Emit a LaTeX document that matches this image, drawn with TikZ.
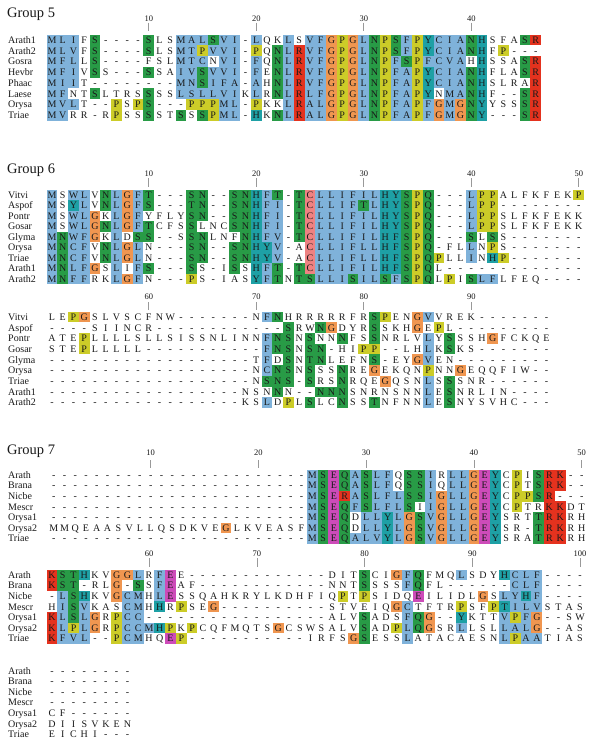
\documentclass[tikz,border=0pt]{standalone}
\usepackage{fontspec}
\setmainfont{Liberation Serif}
\definecolor{cb}{RGB}{127,178,218}
\definecolor{cg}{RGB}{40,155,70}
\definecolor{cy}{RGB}{204,204,40}
\definecolor{co}{RGB}{240,150,80}
\definecolor{cr}{RGB}{228,50,30}
\definecolor{ct}{RGB}{30,160,165}
\definecolor{cm}{RGB}{205,75,185}
\definecolor{cp}{RGB}{238,130,130}
\tikzset{
  res/.style={font=\fontsize{10}{10}\selectfont, inner sep=0pt, text height=6.6pt, text depth=0pt, text=black!90},
  lab/.style={res, anchor=west},
  ttl/.style={font=\fontsize{14.5}{14.5}\selectfont, anchor=west, inner sep=0pt, text height=9.6pt, text depth=0pt, text=black!90},
  num/.style={font=\fontsize{8.5}{8.5}\selectfont, inner sep=0pt, text height=5.8pt, text depth=0pt, text=black!90},
  tk/.style={draw=black!40, line width=0.6pt}
}
\newcount\colidx
\newcount\nodeid
\def\sqxo{0}\def\sqy{0}\def\sqdx{10.75}\def\sqdy{10.7}
\def\drawcell#1#2{%
  \pgfmathsetmacro\sqx{\sqxo+\the\colidx*\sqdx}%
  \if#2w\else\fill[fill=c#2] (\sqx-\sqdx/2,\sqy-\sqdy/2) rectangle ++(\sqdx,\sqdy);\fi
  \global\advance\nodeid by 1
  \node[res] (n\the\nodeid) at (\sqx,\sqy) {#1};%
  \advance\colidx by 1\relax
}
\def\seqA#1#2\relax#3#4\relax{%
  \drawcell{#1}{#3}%
  \ifx\relax#2\relax\else\seqA#2\relax#4\relax\fi
}
\newcommand\seqrow[6]{%
  \def\sqxo{#1}\def\sqdx{#2}\def\sqy{#3}\colidx=0
  \global\advance\nodeid by 1
  \node[lab] (n\the\nodeid) at (8,#3) {#4};%
  \seqA#5\relax#6\relax}
\newcommand\mytick[6]{%
  \node[num] (#1) at (#2,#3) {#6};
  \coordinate (#1a) at (#2,#4);
  \coordinate (#1b) at (#2,#5);
  \draw[tk] (#1a) -- (#1b);}
\begin{document}
\begin{tikzpicture}[x=1pt,y=-1pt]
\fill[white] (0,0) rectangle (600,746);
\useasboundingbox (0,0) rectangle (600,746);
% ---------------- Group 5
\node[ttl] (g5) at (7,12.3) {Group 5};
\mytick{t5a}{148.75}{18.4}{22.7}{30.7}{10}
\mytick{t5b}{256.25}{18.4}{22.7}{30.7}{20}
\mytick{t5c}{363.75}{18.4}{22.7}{30.7}{30}
\mytick{t5d}{471.25}{18.4}{22.7}{30.7}{40}
\seqrow{52}{10.75}{40}{Arath1}{MLIFS----SLSMALSVI-LQKLSVFGPGLNPSFPYCIANHSFASR}{bbbwg wwww gwwbbbgbb w bwwb w bboyobgygbytbbbgtwwwgr}
\seqrow{52}{10.75}{50.75}{Arath2}{MLVFS----SLSMTPVVI-PQNLRVFGPGLNPSFPYCIANHFP---}{bbbwg wwww gwwbbybbb w ywgb r bboyobgygbytbbbgt wy www}
\seqrow{52}{10.75}{61.5}{Gosra}{MFLLS----FSLMTCNVI-FQNLRVFGPGLNPFSPFCVAHHSSASR}{bbbwg wwww wwwbbbwbb w bwgb r bboyobgybgybbbbwtwwwgr}
\seqrow{52}{10.75}{72.25}{Hevbr}{MFIVSS---SSAIVSVVI-FENLRVFGPGLNPFAPYCIANHFLASR}{bbbwgw www gwwbbgbbb w bwgb r bboyobgybbytbbbgtwwwgr}
\seqrow{52}{10.75}{83}{Phaac}{MIIT--------MNSIFA-AHNLRVFGPGLNPFAPYCIANHSLRAR}{bbbw wwwwwwww bbgbbb w bwgb r bboyobgybbytbbbgtwwwwr}
\seqrow{52}{10.75}{93.75}{Laese}{MFNTSLTRSSSSLSLLVIKLRNLRLFGPGLNPFAPYNMANHF--SR}{bbwwgwwwwg wwbbbbbb w bwgb r bboyobgybbytwbbgtwwwgr}
\seqrow{52}{10.75}{104.5}{Orysa}{MVLT--PSPS---PPPML-PKKLRALGPGLNPFAPFGMGNYYSSSR}{bbbwwwywyg www yyybb w ywwb r bboyobgybbybobogtwwwgr}
\seqrow{52}{10.75}{115.25}{Triae}{MVRR-RPSSSSTSSSPML-HKNLRALGPGLNPFAPFGMGNY---SR}{bbwwwwywwgwwgwgybb w twgb r bboyobgybbybobogtwwwgr}
% ---------------- Group 6
\node[ttl] (g6) at (7,168.3) {Group 6};
\mytick{t6a}{148.75}{173.4}{178.3}{186.7}{10}
\mytick{t6b}{256.25}{173.4}{178.3}{186.7}{20}
\mytick{t6c}{363.75}{173.4}{178.3}{186.7}{30}
\mytick{t6d}{471.25}{173.4}{178.3}{186.7}{40}
\mytick{t6e}{578.75}{173.4}{178.3}{186.7}{50}
\seqrow{52}{10.75}{195}{Vitvi}{MSWLVNLGFT---SN--SNHFT-TCLLIFILHYSPQ---LPPALFKFEKP}{bwbbwgbobg www gg ww ggtbg w g pbbbbbbttgyg www byywwwwwwwy}
\seqrow{52}{10.75}{205.5}{Aspof}{MSYLVNLGFS---TN--SNHFI-TCLLIFTLHYSPQ---LPP--------}{bwtbwgbobg www gg ww ggtbb w g pbbbbgbttgyg www byy wwwwwwww}
\seqrow{52}{10.75}{216}{Pontr}{MSWLGKLGFYFLYSN--SNHFI-TCLLIFILHYSPQ---LPPSLFKFEKK}{bwbbowbobw www gg ww ggtbb w g pbbbbbbttgyg www byy wwwwwwww}
\seqrow{52}{10.75}{226.5}{Gosar}{MSWLGNLGFTCFSSLNCSNHFI-TCLLIFILHYSPQ---LPPSLFKFEKK}{bwbbogbobg www gw ww ggtbb w g pbbbbbbttgyg www byy wwwwwwww}
\seqrow{52}{10.75}{237}{Glyma}{MNWFGKLDSS--SSNLNFNHFV-TCLLIFILHFSPQ---SLSS-------}{bgbbowbwgg ww wggwwwgtbb w g pbbbbbbttgyg www gwgw wwwwwww}
\seqrow{52}{10.75}{247.5}{Orysa}{MNCFVNLGLN---SN--SNHYV-ACLLIFLLHFSPQ-FLLNPS-------}{bgbbwgbobw www gg ww ggttb w w pbbbbbbttgyg w wwbwyw wwwwwww}
\seqrow{52}{10.75}{258}{Triae}{MNCFVNLGLN---SN--SNHYV-ACLLIFLLHFSPQPLLINHP-------}{bgbbwgbobw www gg ww ggttb w w pbbbbbbttgyg ywwbwty wwwwwww}
\seqrow{52}{10.75}{268.5}{Arath1}{MNLFGSLIFS---SS-ISSHFT-TCLLIFILHFSPQL-------------}{bgbbowbwbg www gw w wgwtbg w g pbbbbbbttgyg w wwwwwwwwwwwww}
\seqrow{52}{10.75}{279}{Arath2}{MNFFRKLGFN---PS-IASYFTNTSLLISILSFSPQLPISLFLFEQ----}{bgbbwwbobw www yw w wwwtbg w g gbbbgbbgbgyg wywgbbwwww wwww}
\mytick{t6f}{148.75}{296.4}{302}{310}{60}
\mytick{t6g}{256.25}{296.4}{302}{310}{70}
\mytick{t6h}{363.75}{296.4}{302}{310}{80}
\mytick{t6i}{471.25}{296.4}{302}{310}{90}
\seqrow{52}{10.75}{317}{Vitvi}{LEPGSLVSCFNW-------NFNHRRRRRFRSPENGVVREK-------}{wwyowwwwwwww wwwwwww wbgwwwwwwwwgywwobwwww wwwwwww}
\seqrow{52}{10.75}{327.7}{Aspof}{----SIINCR------------SRWNGDYRSSKHGEPL---------}{wwww wwwwww wwwwwwwwwwww gw wgowwwgwwwowyw wwwwwwwww}
\seqrow{52}{10.75}{338.4}{Pontr}{ATEPLLLLSLLSISSNLINNFNSNSNNNFSSNRLVLYSSSHGFCKQE}{wwwywwwwwwwwwwwwwwww bggw gwwgwwgwwwwbwgwwwowwwww}
\seqrow{52}{10.75}{349.1}{Gosar}{STEPLLLLL-----------FNSNSN-HIPP--LHLKSKS-------}{wwwywwwww wwwwwwwwwww bggw gg w ww yy ww wwb wgww wwwwwww}
\seqrow{52}{10.75}{359.8}{Glyma}{---------- ---------TFDSNTNLEFNS-EYGVEN---------}{wwwwwwwwww wwwwwwwww wbwgwggwwwwgwwwobww wwwwwwwww}
\seqrow{52}{10.75}{370.5}{Orysa}{---------- ---------NCNSNSSSNREGEKQNPNNGEQQFIW--}{wwwwwwwwww wwwwwwwww wbggwgwwgwwowwwwywwowwwwww ww}
\seqrow{52}{10.75}{381.2}{Triae}{---------- ---------NSNS-SRSNRQEGQSNLSSSNR------}{wwwwwwwwww wwwwwwwww wgggwgwwgwwwowwwbwgwww wwwwww}
\seqrow{52}{10.75}{391.9}{Arath1}{---------- --------NSNNN--NNNSNRNSNNLESNRLIN----}{wwwwwwwwww wwwwwwww wwwgw ww gggwwwwwwwbwgwwwww wwww}
\seqrow{52}{10.75}{402.6}{Arath2}{---------- --------KSLDPLSLCNSSTNFNNLESNYSVHC---}{wwwwwwwwww wwwwwwww wwbwywgwwgwwgwwwwbwgwwwwww www}
% ---------------- Group 7
\node[ttl] (g7) at (7,449.6) {Group 7};
\mytick{t7a}{150.7}{452.7}{460}{468.3}{10}
\mytick{t7b}{258.4}{452.7}{460}{468.3}{20}
\mytick{t7c}{366.2}{452.7}{460}{468.3}{30}
\mytick{t7d}{473.9}{452.7}{460}{468.3}{40}
\mytick{t7e}{581.7}{452.7}{460}{468.3}{50}
\seqrow{53.7}{10.775}{475}{Arath}{------------------------ MSEQASLFQSSIRLLGEYCPISRK--}{wwwwwwwwwwwwwwwwwwwwwwww bgmgbgbbwggbwbbomtwywgrrww}
\seqrow{53.7}{10.775}{485.6}{Brana}{------------------------ MSEQASLFQSSIQLLGEYCPTSRK--}{wwwwwwwwwwwwwwwwwwwwwwww bgmgbgbbwggbwbbomtwywgrrww}
\seqrow{53.7}{10.775}{496.2}{Nicbe}{------------------------ MSERASLFLSSIGLLGEYCPPSR---}{wwwwwwwwwwwwwwwwwwwwwwww bgmrbgbbbggbobbomtwyygrwww}
\seqrow{53.7}{10.775}{506.8}{Mescr}{------------------------ MSEQFSLFLSIIGLLGEYCPTRKKDT}{wwwwwwwwwwwwwwwwwwwwwwww bgmgbgbbbgwbobbomtwywwrrww}
\seqrow{53.7}{10.775}{517.4}{Orysa1}{------------------------ MSEQDLLYLGSVGLLGEYSRTTRKRH}{wwwwwwwwwwwwwwwwwwwwwwww bgmgwbbtbogbobbomtwwwgrrww}
\seqrow{53.7}{10.775}{528}{Orysa2}{MMQEAASVLLQSDKVEGLKVEASF MSEQDLLYLGSVGLLGEYSR-TRKRH}{wwwwwwwwwwwwwwwwowwwwwww bgmgwbbtbogbobbomtwwwgrrww}
\seqrow{53.7}{10.775}{538.6}{Triae}{------------------------ MSEQALVYLGSVGLLGEYSRATRKRH}{wwwwwwwwwwwwwwwwwwwwwwww bgmgbbbtbogbobbomtwwwgrrww}
\mytick{t7f}{149}{553.3}{558}{567}{60}
\mytick{t7g}{256.8}{553.3}{558}{567}{70}
\mytick{t7h}{364.5}{553.3}{558}{567}{80}
\mytick{t7i}{472.3}{553.3}{558}{567}{90}
\mytick{t7j}{580}{553.3}{558}{567}{100}
\seqrow{52}{10.775}{575}{Arath}{KSTHKVGGLRFEE-------------DITSCIGFQFMQLSDYHCLF----}{rggtwwoobwbmw wwwwwwwwwwwww wwwgwwobgwwwbwwwtbbb wwww}
\seqrow{52}{10.775}{585.6}{Brana}{KST-RLG-SSFEAF------------NNTSSSSFQFL------CLF----}{rggwwwowgwbmww wwwwwwwwwwww wwwgwwwbgww wwwwww bbb wwww}
\seqrow{52}{10.775}{596.2}{Nicbe}{-LSHKVGCMHLESSQAHKRYLKDHFIQPTPSIDQEILIDLGSLYHF----}{wbgtwwobbwbmwwwwwwwwwww wwwwywywwwwmwwwwwowbbtb wwww}
\seqrow{52}{10.775}{606.8}{Mescr}{HISVKASCMHHRPSEG----------STVEIQGCTFTRPSFPTILVSTAS}{wbgbwwwbbwtwywwo wwwwwwwwww wwwwwwobwwwwywwytbbbwwww}
\seqrow{52}{10.775}{617.4}{Orysa1}{KLSLGRPCC-----------------ALVSADSFQG--YKTTVPFG--SW}{rbgbowybb wwwwwwwwwwwwwwwww wwwgwwwbgowwtwwwbybowwww}
\seqrow{52}{10.775}{628}{Orysa2}{KLPLGRPCCMHPKPCQFMQTSGCSWSALVSADPLQGSRLLSLLALG--AS}{rbybowybbbtywywwwwwwwoww wwwwwgwwybgowwbwwwbbbowwww}
\seqrow{52}{10.775}{638.6}{Triae}{KFVL--PCMHQEP-----------IRFSGSESSLATACAESNLPAATIAS}{rbbbwwybbwwmy wwwwwwwwwww wwwwogwwwbwwwwwwwwbybbwwww}
\seqrow{52}{10.775}{670.7}{Arath}{--------}{wwwwwwww}
\seqrow{52}{10.775}{681.3}{Brana}{--------}{wwwwwwww}
\seqrow{52}{10.775}{691.9}{Nicbe}{--------}{wwwwwwww}
\seqrow{52}{10.775}{702.5}{Mescr}{--------}{wwwwwwww}
\seqrow{52}{10.775}{713.1}{Orysa1}{CF------}{wwwwwwww}
\seqrow{52}{10.775}{723.7}{Orysa2}{DIISVKEN}{wwwwwwww}
\seqrow{52}{10.775}{734.3}{Triae}{EICHI---}{wwwwwwww}
\end{tikzpicture}
\end{document}
